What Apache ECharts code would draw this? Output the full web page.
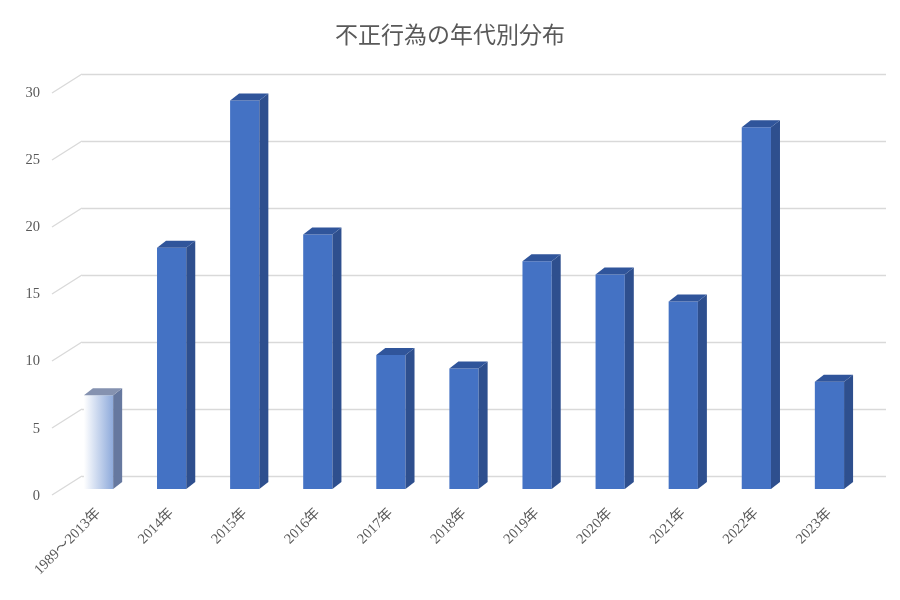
<!DOCTYPE html>
<html>
<head>
<meta charset="utf-8">
<script src="https://cdn.jsdelivr.net/npm/echarts@6/dist/echarts.min.js"></script>
<style>
  html, body { margin: 0; background: #fff; }
  #main { width: 900px; height: 600px; }
</style>
</head>
<body>
<div id="main"></div>
<script>
// 年代別の件数
const categories = ['1989～2013年', '2014年', '2015年', '2016年', '2017年', '2018年',
  '2019年', '2020年', '2021年', '2022年', '2023年'];
const counts = [7, 18, 29, 19, 10, 9, 17, 16, 14, 27, 8];
const yTicks = [0, 5, 10, 15, 20, 25, 30];

// 3D look: bar depth and floor depth in px
const BAR_DX = 9, BAR_DY = 7;
const FLOOR_DX = 30, FLOOR_DY = 19;
const FONT = "'Liberation Serif', 'Noto Sans CJK JP', serif";
const TEXT = '#595959';

const chart = echarts.init(document.getElementById('main'));

function renderBar(params, api) {
  const i = api.value(0);
  const top = api.coord([i, api.value(1)]);
  const base = api.coord([i, 0]);
  const w = api.size([1, 0])[0] * 0.4;
  const x0 = top[0] - w / 2, x1 = top[0] + w / 2;
  // 最初の棒だけ淡いグラデーション
  const faded = i === 0;
  const front = faded
    ? new echarts.graphic.LinearGradient(0, 0, 1, 0, [
        { offset: 0, color: '#ffffff' },
        { offset: 1, color: '#8eaadb' }
      ])
    : '#4472c4';
  const side = faded ? '#66789f' : '#2e4f8e';
  const lid = faded ? '#8592b0' : '#30559b';
  return {
    type: 'group',
    children: [
      { type: 'rect', shape: { x: x0, y: top[1], width: w, height: base[1] - top[1] }, style: { fill: front } },
      { type: 'polygon', shape: { points: [[x1, top[1]], [x1 + BAR_DX, top[1] - BAR_DY], [x1 + BAR_DX, base[1] - BAR_DY], [x1, base[1]]] }, style: { fill: side } },
      { type: 'polygon', shape: { points: [[x0, top[1]], [x0 + BAR_DX, top[1] - BAR_DY], [x1 + BAR_DX, top[1] - BAR_DY], [x1, top[1]]] }, style: { fill: lid } }
    ]
  };
}

function renderConnector(params, api) {
  const p = api.coord([0, api.value(1)]);
  return {
    type: 'line',
    shape: { x1: p[0] - FLOOR_DX, y1: p[1] + FLOOR_DY, x2: p[0], y2: p[1] },
    style: { stroke: '#d9d9d9', lineWidth: 1.3 }
  };
}

chart.setOption({
  animation: false,
  title: {
    text: '不正行為の年代別分布',
    left: 'center',
    top: 18,
    textStyle: { fontFamily: "'Noto Sans CJK JP', sans-serif", fontSize: 23, fontWeight: 'normal', color: TEXT }
  },
  grid: [
    { left: 62, right: 34, top: 87, bottom: 111 },   // bar front plane
    { left: 82, right: 14, top: 74, bottom: 124 },   // back wall
    { left: 52, right: 44, top: 93, bottom: 104 }    // front edge (labels)
  ],
  xAxis: [
    {
      type: 'category', gridIndex: 0, data: categories,
      axisLine: { show: false }, axisTick: { show: false },
      axisLabel: { rotate: 45, margin: 22, fontSize: 14.5, fontFamily: FONT, color: TEXT, interval: 0 }
    },
    { type: 'value', gridIndex: 1, min: 0, max: 1, show: false },
    { type: 'value', gridIndex: 2, min: 0, max: 1, show: false }
  ],
  yAxis: [
    { type: 'value', gridIndex: 0, min: 0, max: 30, interval: 5, show: false },
    {
      type: 'value', gridIndex: 1, min: 0, max: 30, interval: 5,
      axisLine: { show: false }, axisTick: { show: false }, axisLabel: { show: false },
      splitLine: { lineStyle: { color: '#d9d9d9', width: 1.3 } }
    },
    {
      type: 'value', gridIndex: 2, min: 0, max: 30, interval: 5,
      axisLine: { show: false }, axisTick: { show: false }, splitLine: { show: false },
      axisLabel: { margin: 12, fontSize: 14.5, fontFamily: FONT, color: TEXT }
    }
  ],
  series: [
    {
      type: 'custom', xAxisIndex: 1, yAxisIndex: 1, z: 1,
      renderItem: renderConnector,
      data: yTicks.map(v => [0, v]),
      silent: true
    },
    {
      type: 'custom', xAxisIndex: 0, yAxisIndex: 0, z: 5,
      renderItem: renderBar,
      data: counts.map((v, i) => [i, v])
    }
  ]
});
</script>
</body>
</html>
